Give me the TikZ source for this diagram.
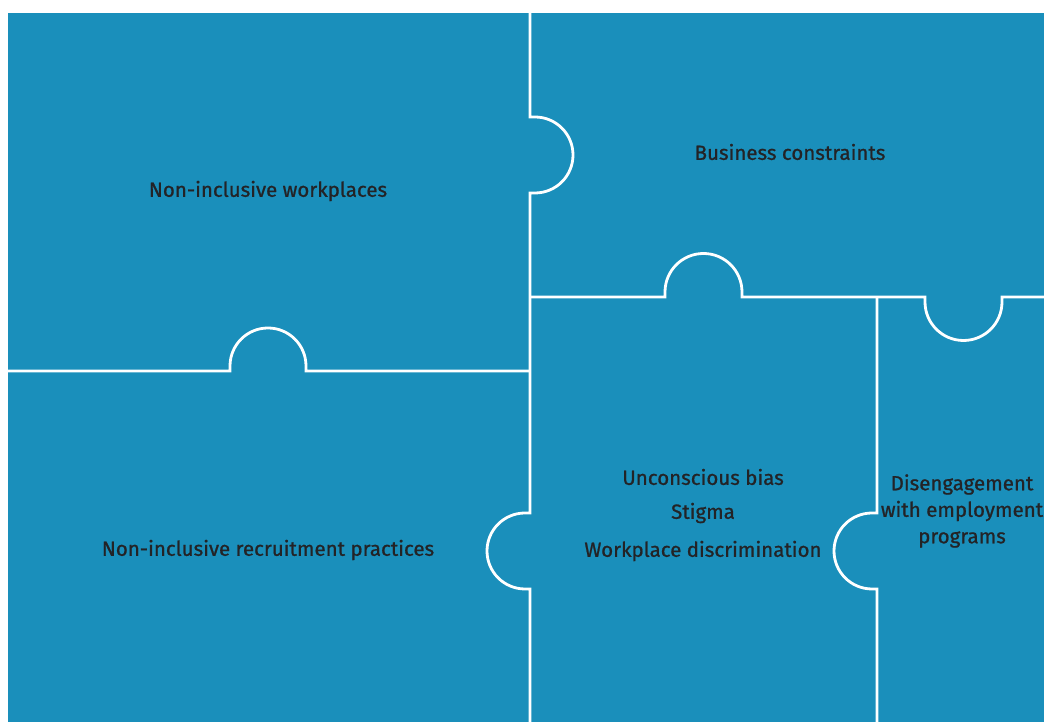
\documentclass[tikz,border=0pt]{standalone}
\usepackage{fontspec}
\setmainfont{Fira Sans}
\newfontfamily\lblfont{Fira Sans}[FakeBold=0.9]
\definecolor{puzzleblue}{RGB}{26,143,187}
\definecolor{txt}{RGB}{35,35,38}
\begin{document}
\begin{tikzpicture}[x=1pt,y=1pt,
  seam/.style={draw=white,line width=2.8pt,line join=miter},
  lbl/.style={text=txt,font=\lblfont\fontsize{20.5}{26.5}\selectfont,inner sep=0pt,align=center}]
\useasboundingbox (0,0) rectangle (1044,722);
\fill[puzzleblue] (8,0) rectangle (1044,709);
% vertical seam at x=530
\draw[seam] (530,709) -- (530,605) -- (535,605) arc[start angle=90,end angle=-90,radius=38pt]
  -- (530,529) -- (530,209) -- (525,209) arc[start angle=90,end angle=270,radius=38pt]
  -- (530,133) -- (530,0);
% left horizontal seam
\draw[seam] (8,351) -- (230,351) -- (230,356) arc[start angle=180,end angle=0,radius=38pt]
  -- (306,351) -- (530,351);
% right horizontal seam
\draw[seam] (530,425) -- (665,425) -- (665,430) arc[start angle=180,end angle=0,radius=38.5pt]
  -- (742,425) -- (925,425) -- (925,420) arc[start angle=180,end angle=360,radius=38.5pt]
  -- (1002,425) -- (1044,425);
% vertical seam at x=877
\draw[seam] (877,425) -- (877,209) -- (872,209) arc[start angle=90,end angle=270,radius=38pt]
  -- (877,133) -- (877,0);
% labels
\node[lbl] (nw) at (268,531) {Non-inclusive workplaces};
\node[lbl] (bc) at (790,570) {Business constraints};
\node[lbl] (nr) at (268,172) {Non-inclusive recruitment practices};
\node[lbl] (ub) at (703,245) {Unconscious bias};
\node[lbl] (st) at (703,209) {Stigma};
\node[lbl] (wd) at (703,171) {Workplace discrimination};
\node[lbl] (de) at (962,211) {Disengagement\\with employment\\programs};
\end{tikzpicture}
\end{document}
